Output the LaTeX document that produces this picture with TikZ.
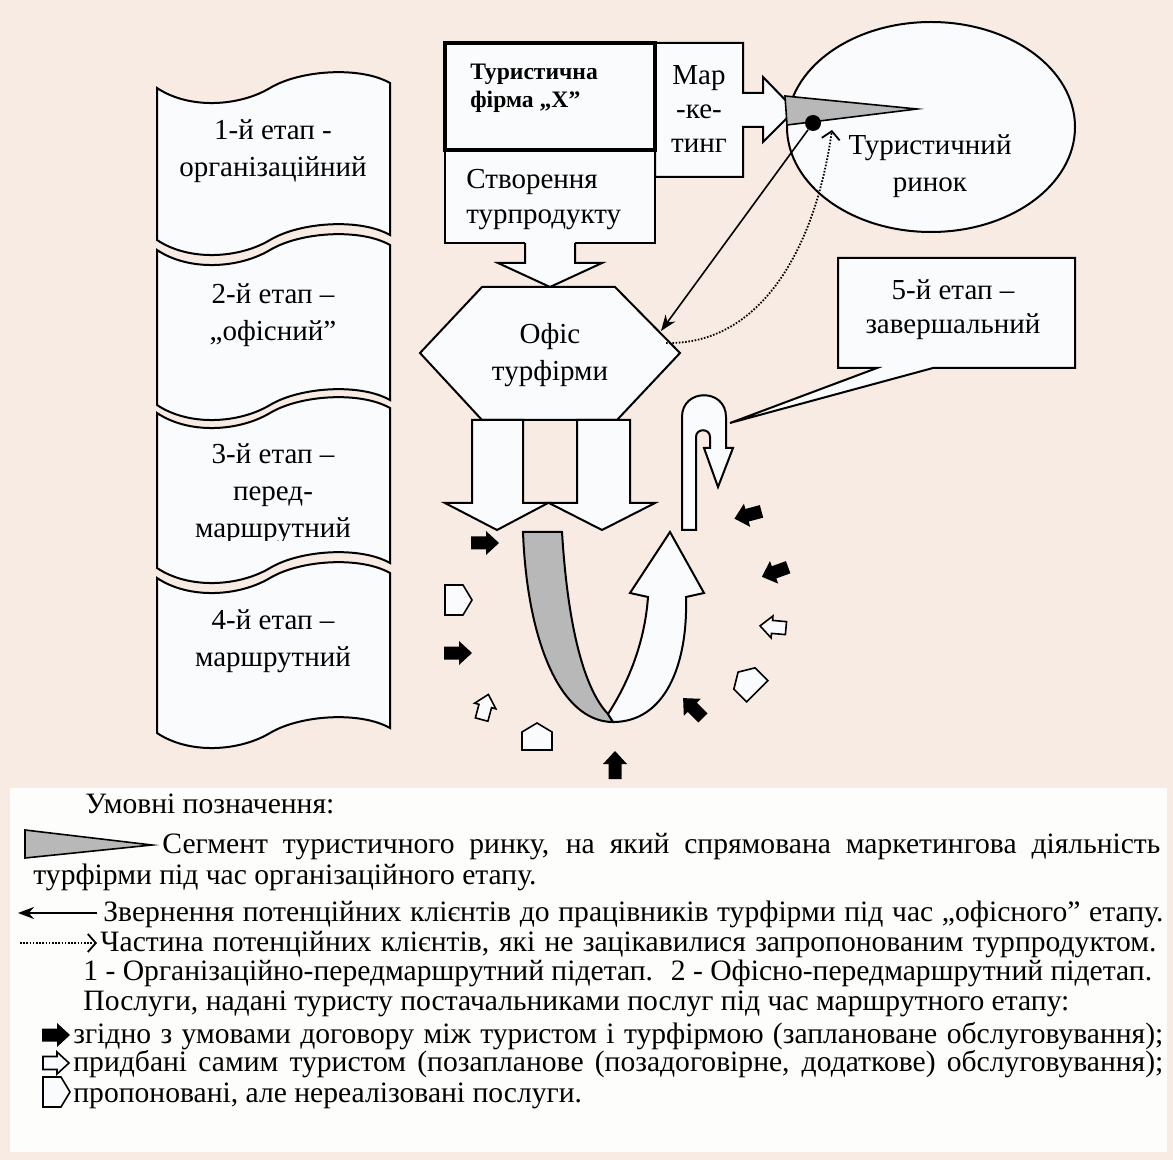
\documentclass[tikz,border=0pt]{standalone}
\usepackage{fontspec}
\setmainfont{Liberation Serif}
\usetikzlibrary{shapes,calc,arrows.meta}

\definecolor{bgpink}{HTML}{F7EBE3}
\definecolor{legwhite}{HTML}{FDFDFC}
\definecolor{shfill}{HTML}{FAFBFC}
\definecolor{seggray}{HTML}{B8B8B8}

\tikzset{
  shp/.style={draw=black, line width=1pt, fill=shfill, line join=miter},
  stagetxt/.style={font=\fontsize{14.5}{18.5}\selectfont, align=center, inner sep=0pt},
  legtxt/.style={font=\fontsize{14.8}{15}\selectfont, anchor=base west, inner sep=0pt},
  srvplan/.pic={\fill[black] (-14,-6.5) -- (1,-6.5) -- (1,-12) -- (14,0) -- (1,12) -- (1,6.5) -- (-14,6.5) -- cycle;},
  srvextra/.pic={\draw[shp, line width=0.8pt] (-13,-6.5) -- (1,-6.5) -- (1,-11) -- (13,0) -- (1,11) -- (1,6.5) -- (-13,6.5) -- cycle;},
  srvoffer/.pic={\draw[shp, line width=0.8pt] (-13,-15) -- (5,-15) -- (14,0) -- (5,15) -- (-13,15) -- cycle;}
}

\begin{document}
\begin{tikzpicture}[x=0.5pt, y=-0.5pt]
  % \draw[step=50,thin,gray!40] (0,0) grid (1173,1160);
  \useasboundingbox (0,0) rectangle (1173,1160);
  \fill[bgpink] (0,0) rectangle (1173,1160);

  % stages column
  \foreach \yt/\yb in {88/240, 250/405, 413/568, 578/733}
    \draw[shp] (157,\yt) .. controls (190,{\yt+22}) and (240,{\yt+18}) .. (270,\yt)
      .. controls (300,{\yt-18}) and (360,{\yt-22}) .. (390,{\yt-5})
      -- (390,{\yb-5}) .. controls (360,{\yb-22}) and (300,{\yb-18}) .. (270,\yb)
      .. controls (240,{\yb+18}) and (190,{\yb+22}) .. (157,\yb) -- cycle;
  \node[stagetxt] (stageA) at (273,151) {1-й етап -\\організаційний};
  \node[stagetxt] (stageB) at (273,315) {2-й етап –\\„офісний”};
  \begin{scope}
    \clip (157,400) rectangle (390,541);
    \node[stagetxt] (stageC) at (273,494) {3-й етап –\\перед-\\маршрутний};
  \end{scope}
  \node[stagetxt] (stageD) at (273,641) {4-й етап –\\маршрутний};

  % firm and marketing
  \draw[shp] (655,43) -- (743,43) -- (743,93) -- (763,93) -- (763,77) -- (795,110) -- (763,142) -- (763,127) -- (743,127) -- (743,177) -- (655,177) -- cycle;
  \node[stagetxt, font=\fontsize{14.5}{17}\selectfont] (mkt) at (699,109) {Мар\\-ке-\\тинг};
  \draw[shp] (445,150) rectangle (655,243);
  \fill[shfill] (525,240) -- (525,263) -- (498,263) -- (550,287) -- (602,263) -- (575,263) -- (575,240) -- cycle;
  \draw[line width=1pt] (525,243) -- (525,263) -- (498,263) -- (550,287) -- (602,263) -- (575,263) -- (575,243);
  \node[stagetxt, anchor=west, align=left, font=\fontsize{14.5}{17.5}\selectfont] (create) at (466,200) {Створення\\турпродукту};
  \draw[shp, line width=2pt] (445,43) rectangle (655,150);
  \node[anchor=west, align=left, inner sep=0pt, font=\bfseries\fontsize{11.8}{14}\selectfont] (firm) at (470,88) {Туристична\\фірма „X”};

  % market
  \draw[shp] (931,127) ellipse [x radius=144, y radius=105];
  \filldraw[fill=seggray, line width=0.8pt] (785,96) -- (917,109) -- (787,125) -- cycle;
  \node[circle, fill=black, inner sep=0pt, minimum size=8pt] (dot) at (813,123) {};
  \node[stagetxt] (market) at (930,166) {Туристичний\\ринок};

  % office
  \draw[shp] (420,353) -- (482,287) -- (615,287) -- (680,353) -- (617,420) -- (482,420) -- cycle;
  \node[stagetxt] (office) at (550,355) {Офіс\\турфірми};
  \coordinate (officeIn) at (661,331);
  \coordinate (officeOut) at (666,343);
  \coordinate (marketIn) at (832,130);
  \draw[line width=0.8pt, -{Stealth[length=8pt,width=6pt]}] (dot) -- (officeIn);
  \draw[line width=0.9pt, dash pattern=on 0.8pt off 0.8pt, -{Straight Barb[length=4pt,width=9pt]}] (officeOut) .. controls (760,345) and (815,250) .. (marketIn);

  % flows out of the office
  \draw[line width=1pt] (523,420) rectangle (577,503);
  \draw[shp] (472,420) -- (523,420) -- (523,503) -- (548,503) -- (497,530) -- (445,503) -- (472,503) -- cycle;
  \draw[shp] (577,420) -- (630,420) -- (630,503) -- (655,503) -- (602,530) -- (549,503) -- (577,503) -- cycle;

  % route loop
  \draw[line width=1pt, fill=seggray] (523,532) -- (562,532) .. controls (568,630) and (585,690) .. (608,714) -- (613,722) .. controls (560,722) and (527,640) .. (523,532) -- cycle;
  \draw[shp] (648,597) -- (630,593) -- (670,532) -- (704,593) -- (686,597) .. controls (688,665) and (665,722) .. (613,722) -- (608,714) .. controls (630,680) and (645,640) .. (648,597) -- cycle;
  \draw[shp] (682,530) -- (682,417) .. controls (682,388) and (726,388) .. (726,417) -- (726,448) -- (733,448) -- (718,487) -- (704,448) -- (710,448) -- (710,437) .. controls (710,428) and (696,428) .. (696,437) -- (696,530) -- cycle;

  % final stage
  \draw[shp] (838,258) -- (1075,258) -- (1075,368) -- (933,368) -- (730,423) -- (877,368) -- (838,368) -- cycle;
  \node[stagetxt, font=\fontsize{14.5}{17}\selectfont] (finish) at (953,310) {5-й етап –\\завершальний};

  % services
  \foreach \px/\py/\ang in {485/543/0, 458/653/0, 615/765/90, 693/708/135, 775/572/200, 748/515/195}
    \pic[rotate=\ang] at (\px,\py) {srvplan};
  \foreach \px/\py/\ang in {485/707/75, 773/627/175}
    \pic[rotate=\ang] at (\px,\py) {srvextra};
  \foreach \px/\py/\ang in {458/600/0, 537/737/90, 748/682/135}
    \pic[rotate=\ang] at (\px,\py) {srvoffer};

  % legend
  \fill[legwhite] (10,788) rectangle (1167,1152);
  \filldraw[fill=seggray, line width=0.8pt] (25,830) -- (152,845) -- (25,858) -- cycle;
  \coordinate (keyA) at (97,913);
  \coordinate (keyB) at (18,913);
  \draw[line width=0.9pt, -{Stealth[length=8pt,width=6pt]}] (keyA) -- (keyB);
  \coordinate (keyC) at (20,943);
  \coordinate (keyD) at (97,943);
  \draw[line width=0.9pt, dash pattern=on 0.8pt off 0.8pt, -{Straight Barb[length=4pt,width=9pt]}] (keyC) -- (keyD);
  \pic at (56,1035) {srvplan};
  \pic at (56,1063) {srvextra};
  \pic at (56,1092) {srvoffer};

  \node[legtxt] (legA) at (85,813) {Умовні позначення:};
  \node[legtxt] (legB) at (162,853) {\makebox[499pt][s]{Сегмент туристичного ринку, на який спрямована маркетингова діяльність}};
  \node[legtxt] (legC) at (33,884) {турфірми під час організаційного етапу.};
  \node[legtxt] (legD) at (103,921) {\makebox[530pt][s]{Звернення потенційних клієнтів до працівників турфірми під час „офісного” етапу.}};
  \node[legtxt] (legE) at (100,951) {\makebox[528pt][s]{Частина потенційних клієнтів, які не зацікавилися запропонованим турпродуктом.}};
  \node[legtxt] (legF) at (83,980) {1 - Організаційно-передмаршрутний підетап.\hspace{0.6em}2 - Офісно-передмаршрутний підетап.};
  \node[legtxt] (legG) at (83,1010) {Послуги, надані туристу постачальниками послуг під час маршрутного етапу:};
  \node[legtxt] (legH) at (73,1043) {\makebox[545pt][s]{згідно з умовами договору між туристом і турфірмою (заплановане обслуговування);}};
  \node[legtxt] (legI) at (73,1071) {\makebox[545pt][s]{придбані самим туристом (позапланове (позадоговірне, додаткове) обслуговування);}};
  \node[legtxt] (legJ) at (73,1102) {пропоновані, але нереалізовані послуги.};
\end{tikzpicture}
\end{document}
